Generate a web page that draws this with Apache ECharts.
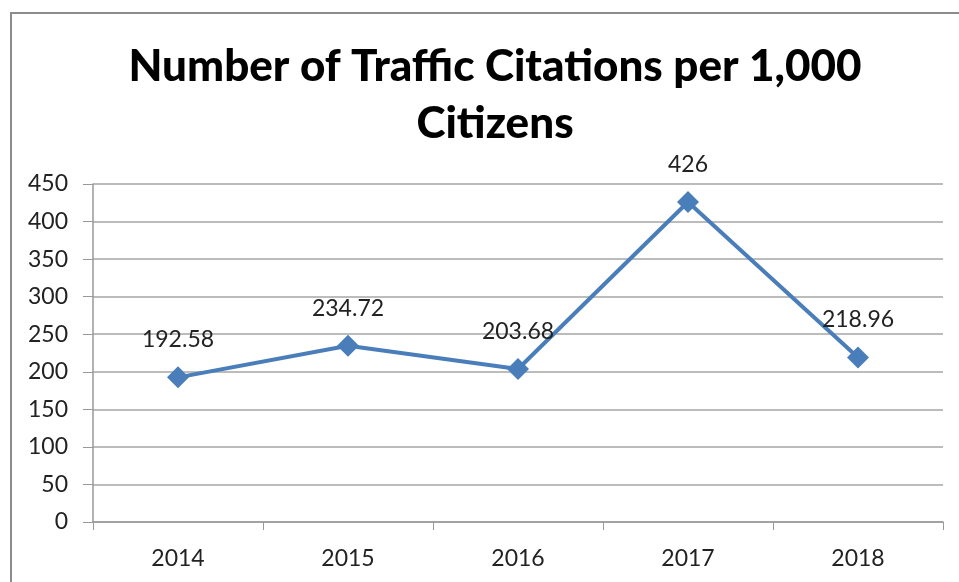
<!DOCTYPE html>
<html>
<head>
<meta charset="utf-8">
<script src="https://cdn.jsdelivr.net/npm/echarts@6/dist/echarts.min.js"></script>
<style>
  html, body { margin: 0; padding: 0; background: #fff; }
  #frame { position: absolute; left: 10px; top: 12px; width: 1000px; height: 620px;
           border-left: 2px solid #8c8c8c; border-top: 2px solid #8c8c8c; }
  #chart { position: absolute; left: 0; top: 0; width: 959px; height: 582px; }
</style>
</head>
<body>
<div id="frame"></div>
<div id="chart"></div>
<script>
// data
const years = ['2014', '2015', '2016', '2017', '2018'];
const citations = [192.58, 234.72, 203.68, 426, 218.96];

const chart = echarts.init(document.getElementById('chart'));
chart.setOption({
    animation: false,
    title: {
        text: 'Number of Traffic Citations per 1,000\nCitizens',
        left: 490,
        textAlign: 'center',
        top: 33,
        textStyle: {
            fontFamily: 'Lato',
            fontWeight: 900,
            fontSize: 44,
            lineHeight: 57,
            color: '#000'
        }
    },
    grid: { left: 93, right: 16, top: 184, bottom: 60 },
    xAxis: {
        type: 'category',
        data: years,
        boundaryGap: true,
        axisLine: { lineStyle: { color: '#999', width: 1.5 } },
        axisTick: { show: true, length: 8, lineStyle: { color: '#999' } },
        axisLabel: { fontFamily: 'Lato', fontSize: 23, color: '#222', margin: 25 }
    },
    yAxis: {
        type: 'value',
        min: 0,
        max: 450,
        interval: 50,
        axisLine: { show: true, lineStyle: { color: '#999', width: 1.5 } },
        axisTick: { show: true, inside: false, length: 10, lineStyle: { color: '#999' } },
        axisLabel: { fontFamily: 'Lato', fontSize: 23, color: '#222', margin: 25 },
        splitLine: { lineStyle: { color: '#a6a6a6', width: 1.5 } }
    },
    series: [{
        type: 'line',
        data: citations,
        symbol: 'diamond',
        symbolSize: 22,
        lineStyle: { color: '#4a7ebb', width: 4 },
        itemStyle: { color: '#4a7ebb' },
        label: {
            show: true,
            position: 'top',
            distance: 15,
            fontFamily: 'Lato',
            fontSize: 23,
            color: '#222'
        }
    }]
});
</script>
</body>
</html>
